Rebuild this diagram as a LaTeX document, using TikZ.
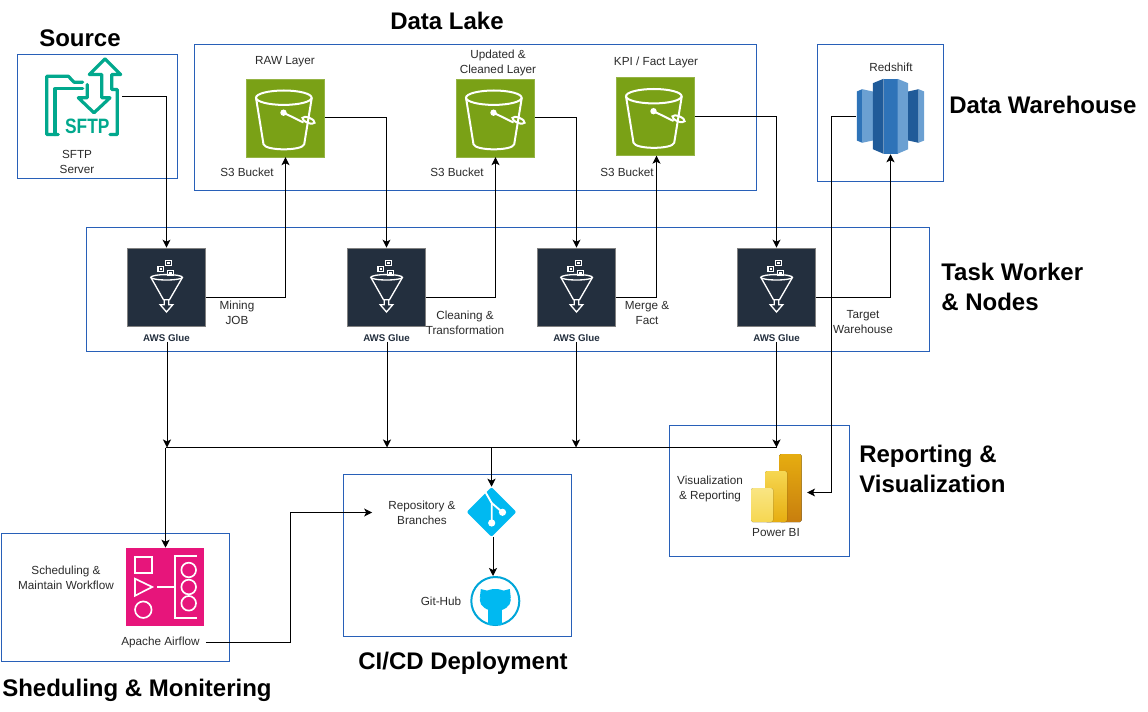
\documentclass[tikz,border=0pt]{standalone}
\usepackage{fontspec}
\setmainfont{Liberation Sans}
\usetikzlibrary{calc,arrows.meta,shapes.geometric}

\definecolor{boxblue}{HTML}{2860B8}
\definecolor{bucketgreen}{HTML}{7AA116}
\definecolor{gluedark}{HTML}{232F3E}
\definecolor{airpink}{HTML}{E7157B}
\definecolor{gitblue}{HTML}{00B9F1}
\definecolor{sftpteal}{HTML}{01A88D}
\definecolor{txtgrey}{HTML}{2B2B2B}
\definecolor{rsdark}{HTML}{205B99}
\definecolor{rsmid}{HTML}{2E73B8}
\definecolor{rslight}{HTML}{6BA0D2}
\definecolor{bihigh}{HTML}{E6AD10}
\definecolor{bilow}{HTML}{C87E0E}
\definecolor{bimid}{HTML}{F6D751}
\definecolor{bipale}{HTML}{F9E583}

\tikzset{
	layerbox/.style={draw=boxblue, line width=0.75pt},
	bucketnode/.style={fill=bucketgreen, draw=bucketgreen!80!white, line width=0.3pt, minimum size=58.5pt, inner sep=0pt},
	gluenode/.style={fill=gluedark, draw=gray, line width=0.5pt, minimum size=58.5pt, inner sep=0pt},
	txt/.style={font=\fontsize{8.8}{11.25}\selectfont, text=txtgrey, align=center, inner sep=0pt},
	gluetxt/.style={font=\fontsize{7.3}{9}\bfseries\selectfont, text=gluedark, inner sep=0pt},
	titletxt/.style={font=\fontsize{18}{21}\bfseries\selectfont, text=black, align=left, inner sep=0pt},
	flow/.style={draw=black, line width=0.75pt, -{Stealth[length=6pt,width=6pt,inset=1.5pt]}},
	bare/.style={draw=black, line width=0.75pt},
}

\def\bucketglyph(#1){\begin{scope}[shift={(#1.center)}, color=white, line width=1.5pt]
	\draw (-1.7, -20.3) ellipse [x radius=27.8, y radius=7.2];
	\draw (-29.5, -20.3) -- (-22, 26.3) .. controls (-20, 33) and (17, 33) .. (18.7, 26.3) -- (26.3, -20.3);
	\fill (-2, -5.3) circle (2.4pt);
	\draw (-2, -5.3) -- (18, 4.5);
	\draw (23, 2.3) ellipse [x radius=6.5, y radius=2.6, rotate=-22];
\end{scope}}

\def\glueglyph(#1){\begin{scope}[shift={(#1.center)}, color=white, line width=1pt]
	\draw (0.1, -9.7) ellipse [x radius=15.8, y radius=2.7];
	\draw (-15.7, -9.7) -- (-3, 12.7) -- (3, 12.7) -- (16, -9.7);
	\draw (-2.3, 12.7) -- (-2.3, 17.7) -- (-6.3, 17.7) -- (0, 25) -- (6.3, 17.7) -- (2.3, 17.7) -- (2.3, 12.7);
	\draw (-0.7, -26.7) rectangle (4.7, -21.3);
	\fill (0.9, -25.1) rectangle (3.1, -22.9);
	\draw (-8.4, -20.7) rectangle (-3, -15.3);
	\fill (-6.8, -19.1) rectangle (-4.6, -16.9);
	\draw (1.3, -16.7) rectangle (6.7, -11.3);
	\fill (2.9, -15.1) rectangle (5.1, -12.9);
\end{scope}}

\begin{document}
\begin{tikzpicture}[x=0.75pt, y=-0.75pt]
	%%%%% START %%%%%
	\useasboundingbox (0, 0) rectangle (1148, 712);
	\fill[white] (0, 0) rectangle (1148, 712);

	\draw[layerbox] (17.5, 54.5) rectangle (177.5, 178.5);
	\draw[layerbox] (194.5, 44.5) rectangle (756.5, 190.5);
	\draw[layerbox] (817.5, 44.5) rectangle (943.5, 181.5);
	\draw[layerbox] (86.5, 227.5) rectangle (929.5, 351.5);
	\draw[layerbox] (669.5, 425.5) rectangle (849.5, 556.5);
	\draw[layerbox] (1, 533.5) rectangle (229.5, 661.5);
	\draw[layerbox] (343.5, 474.5) rectangle (571.5, 636.5);

	% titles
	\node[titletxt] (sourcett) at (80, 38) {Source};
	\node[titletxt] (laket) at (447, 21) {Data Lake};
	\node[titletxt, anchor=west] (warehouset) at (949, 105) {Data Warehouse};
	\node[titletxt, anchor=west] (taskt) at (941, 287) {Task Worker\\[1pt]\& Nodes};
	\node[titletxt, anchor=west] (reportt) at (859, 469) {Reporting \&\\[1pt]Visualization};
	\node[titletxt, anchor=west] (schedt) at (2, 690) {Sheduling \& Monitering};
	\node[titletxt] (cicdt) at (463, 663) {CI/CD Deployment};

	% sftp
	\node[minimum width=57pt, minimum height=57pt, inner sep=0pt] (sftp) at (84, 96.5) {};
	\begin{scope}[shift={(sftp.center)}, color=sftpteal, line width=2.4pt, line join=round, line cap=round]
		\draw (-25.7, 38) -- (-37.3, 38) -- (-37.3, -20.3) -- (-15.7, -20.3) -- (-10, -14.3) -- (-1.3, -14.3);
		\draw (-1.3, -7.7) -- (-29, -7.7) -- (-29, 38);
		\draw (26, 38) -- (33.3, 38) -- (33.3, -7) -- (27.7, -7) -- (27.7, -22) -- (36.7, -22) -- (21, -37.7) -- (5.3, -22) -- (17.7, -22) -- (17.7, 1.3) -- (26, 1.3) -- (10, 16.3) -- (-5.7, 1.3) -- (3.3, 1.3) -- (3.3, -12);
	\end{scope}
	\node[font=\fontsize{13}{13}\bfseries\selectfont, text=sftpteal, inner sep=0pt, transform shape, yscale=1.2] (sftpname) at (87.3, 126.7) {SFTP};
	\node[txt] (sftptxt) at (77, 162) {SFTP\\Server};

	% s3 buckets
	\node[bucketnode] (raw) at (285.5, 118) {};
	\bucketglyph(raw)
	\node[bucketnode] (clean) at (495.5, 118) {};
	\bucketglyph(clean)
	\node[bucketnode] (kpi) at (655.5, 116.5) {};
	\bucketglyph(kpi)
	\node[txt] (rawtxt) at (285, 62) {RAW Layer};
	\node[txt] (cleantxt) at (498, 62.5) {Updated \&\\Cleaned Layer};
	\node[txt] (kpitxt) at (656, 62) {KPI / Fact Layer};
	\node[txt] (s3a) at (247, 172) {S3 Bucket};
	\node[txt] (s3b) at (457, 172) {S3 Bucket};
	\node[txt] (s3c) at (627, 172) {S3 Bucket};

	% redshift
	\node[minimum width=51pt, minimum height=56.25pt, inner sep=0pt] (redshift) at (890.5, 116.5) {};
	\begin{scope}[shift={(redshift.center)}]
		\fill[rsmid] (-33.7, -25) -- (-28.3, -27.3) -- (-28.3, 26.3) -- (-33.7, 24) -- cycle;
		\fill[rslight] (-28.3, -27.3) -- (-17.7, -25) -- (-17.7, 24) -- (-28.3, 26.3) -- cycle;
		\fill[rsdark] (-17.7, -33.3) -- (-7, -37.7) -- (-7, 37.3) -- (-17.7, 32.7) -- cycle;
		\fill[rsmid] (-7, -37.7) -- (7, -37.7) -- (7, 37.3) -- (-7, 37.3) -- cycle;
		\fill[rslight] (7, -37.7) -- (17.7, -33.3) -- (17.7, 32.7) -- (7, 37.3) -- cycle;
		\fill[rsdark] (17.7, -25) -- (28, -27.3) -- (28, 26.3) -- (17.7, 24) -- cycle;
		\fill[rslight] (28, -27.3) -- (33.7, -25) -- (33.7, 24) -- (28, 26.3) -- cycle;
	\end{scope}
	\node[txt] (redshifttxt) at (891, 67) {Redshift};

	% glue
	\node[gluenode] (gluea) at (166.5, 287) {};
	\glueglyph(gluea)
	\node[gluenode] (glueb) at (386.5, 287) {};
	\glueglyph(glueb)
	\node[gluenode] (gluec) at (576.5, 287) {};
	\glueglyph(gluec)
	\node[gluenode] (glued) at (776.5, 287) {};
	\glueglyph(glued)
	\node[gluetxt] (glueatxt) at (166.5, 338) {AWS Glue};
	\node[gluetxt] (gluebtxt) at (386.5, 338) {AWS Glue};
	\node[gluetxt] (gluectxt) at (576.5, 338) {AWS Glue};
	\node[gluetxt] (gluedtxt) at (776.5, 338) {AWS Glue};
	\node[txt] (miningtxt) at (237, 312.5) {Mining\\JOB};
	\node[txt] (cleaningtxt) at (465, 322.5) {Cleaning \&\\Transformation};
	\node[txt] (mergetxt) at (647, 312.5) {Merge \&\\Fact};
	\node[txt] (targettxt) at (863, 322.5) {Target\\Warehouse};

	% airflow
	\node[fill=airpink, minimum size=58.5pt, inner sep=0pt] (airflow) at (165, 587) {};
	\begin{scope}[shift={(airflow.center)}, color=white, line width=1.25pt]
		\draw (-30, -30) rectangle (-13.3, -14);
		\draw (-30, -8.3) -- (-12.7, 0) -- (-30, 8.7) -- cycle;
		\draw (-21.7, 22.7) circle (6.2pt);
		\draw (-7.7, 0) -- (10, 0);
		\draw (31.7, -30.7) -- (10, -30.7) -- (10, 31) -- (31.7, 31);
		\draw (23.7, -17) circle (5.5pt);
		\draw (23.7, 0) circle (5.5pt);
		\draw (23.7, 16.3) circle (5.5pt);
	\end{scope}
	\node[txt] (airflowtxt) at (160.5, 642.5) {Apache Airflow};
	\node[txt] (schedtxt) at (66, 577.5) {Scheduling \&\\Maintain Workflow};

	% git
	\node[diamond, fill=gitblue, minimum size=37.5pt, inner sep=0pt, rounded corners=1.5pt] (git) at (491.5, 512) {};
	\begin{scope}[shift={(git.center)}, color=white, line width=1.4pt]
		\draw (-6.5, -20.7) -- (0.2, -9) -- (0.2, 11);
		\draw (0.2, -9) -- (11, 0.3);
		\fill (0.2, 11) circle (2.7pt);
		\fill (11, 0.3) circle (2.7pt);
	\end{scope}
	\node[txt] (repotxt) at (422, 512.5) {Repository \&\\Branches};

	% github
	\node[circle, draw=gitblue!90!black, line width=1.5pt, fill=white, minimum size=36pt, inner sep=0pt] (github) at (495.3, 601) {};
	\begin{scope}[shift={(github.center)}, color=gitblue]
		\fill (0, -1) ellipse [x radius=15.5, y radius=11];
		\fill (-15.5, -3) -- (-14.5, -12) -- (-5, -9.5) -- cycle;
		\fill (15.5, -3) -- (14.5, -12) -- (5, -9.5) -- cycle;
		\fill (-7, 8) -- (7, 8) -- (7, 23.5) -- (-7, 23.5) -- cycle;
	\end{scope}
	\node[txt] (githubtxt) at (441, 601) {Git-Hub};

	% power bi
	\node[minimum width=38.25pt, minimum height=51pt, inner sep=0pt] (powerbi) at (776.3, 488) {};
	\begin{scope}[rounded corners=1.2pt]
		\fill[top color=bihigh, bottom color=bilow] (779.3, 454) rectangle (801.5, 522);
		\fill[top color=bimid, bottom color=bihigh] (765, 471) rectangle (787, 522);
		\fill[top color=bipale, bottom color=bimid] (751, 488) rectangle (773, 522);
	\end{scope}
	\node[txt] (powerbitxt) at (776, 533) {Power BI};
	\node[txt] (visualtxt) at (710, 488.5) {Visualization\\\& Reporting};

	% bus coordinates
	\coordinate (busleft) at (165.5, 447.5);
	\coordinate (busa) at (167, 447.5);
	\coordinate (busb) at (387, 447.5);
	\coordinate (busc) at (576, 447.5);
	\coordinate (busd) at (776.5, 447.5);
	\coordinate (busgit) at (491.5, 447.5);
	\coordinate (airflowup) at (290, 642.5);

	% connectors
	\draw[flow] (sftp.east) -| (gluea.north);
	\draw[flow] ($(gluea.east)+(0, 10.5)$) -| (raw.south);
	\draw[flow] (raw.east) -| (glueb.north);
	\draw[flow] ($(glueb.east)+(0, 10.5)$) -| (clean.south);
	\draw[flow] (clean.east) -| (gluec.north);
	\draw[flow] ($(gluec.east)+(0, 10.5)$) -| ($(kpi.south)+(1, 0)$);
	\draw[flow] (kpi.east) -| (glued.north);
	\draw[flow] ($(glued.east)+(0, 10.5)$) -| (redshift.south);
	\draw[flow] ($(redshift.west)+(-0.5, 0)$) -- ++(-24.5, 0) |- ($(powerbi.east)+(5, 4.5)$);

	\draw[flow] (glueatxt.south -| busa) -- (busa);
	\draw[flow] (gluebtxt.south -| busb) -- (busb);
	\draw[flow] (gluectxt.south -| busc) -- (busc);
	\draw[flow] (gluedtxt.south) -- (busd);
	\draw[bare] (busleft) -- (busd);
	\draw[flow] (busleft) -- (busleft |- airflow.north);
	\draw[flow] (busgit) -- (git.north);
	\draw[flow] ($(git.south)+(1.5, 0)$) -- ($(git.south |- github.north)+(1.5, 0)$);
	\draw[flow] ($(airflowtxt.east)+(6, 0)$) -- (airflowup) |- ($(repotxt.west)+(-16, 0)$);

	%%%%% END %%%%%
\end{tikzpicture}
\end{document}
